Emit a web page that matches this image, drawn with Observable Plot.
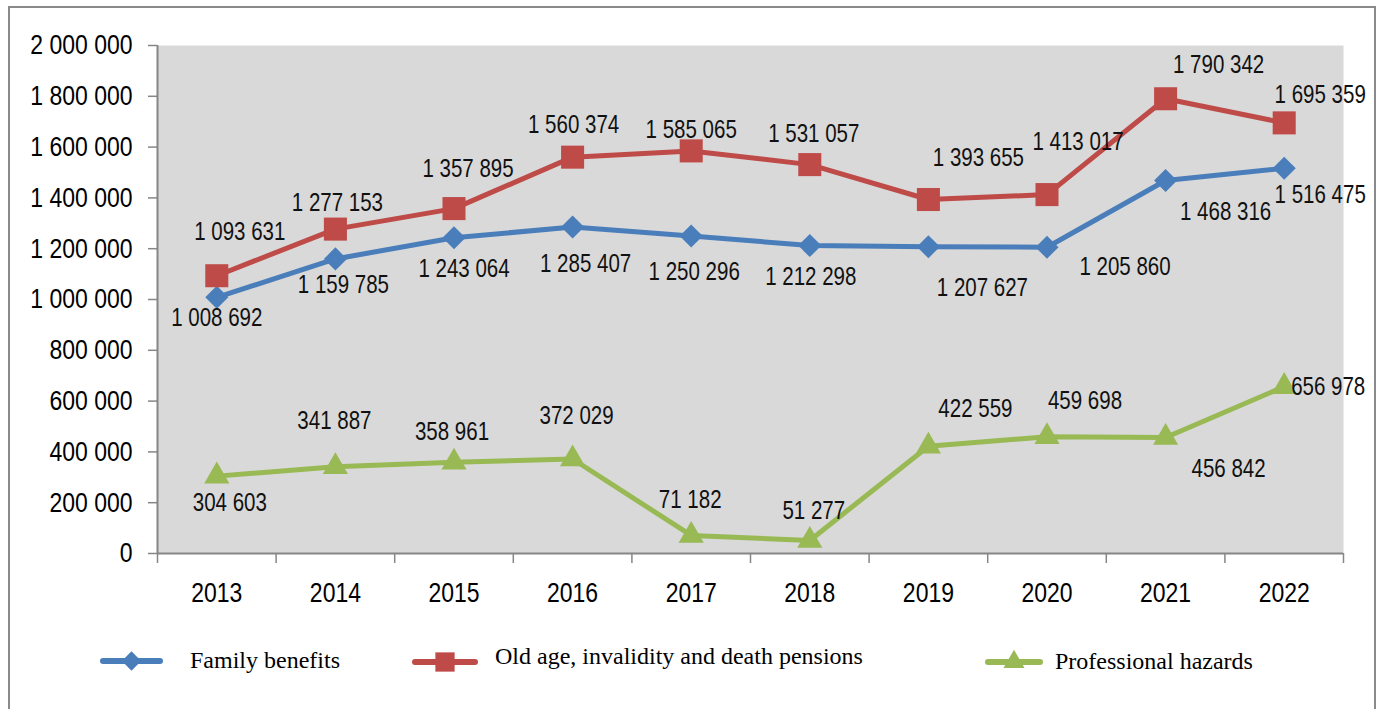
<!DOCTYPE html>
<html><head><meta charset="utf-8">
<script src="https://cdn.jsdelivr.net/npm/d3@7"></script>
<script src="https://cdn.jsdelivr.net/npm/@observablehq/plot@0.6"></script>
<style>
body{margin:0;background:#fff;width:1383px;height:709px;overflow:hidden;position:relative;}
#frame{position:absolute;left:8px;top:6px;width:1368px;height:730px;border:2px solid #8a8a8a;box-sizing:border-box;}
#chart{position:absolute;left:0;top:0;}
.leg{position:absolute;font-family:"Liberation Serif","Times New Roman",serif;font-size:24px;color:#000;white-space:nowrap;line-height:1;}
.icon{position:absolute;}
</style></head><body>
<div id="frame"></div>
<div id="chart"></div>
<div id="legend"></div>
<script>
const years = [2013, 2014, 2015, 2016, 2017, 2018, 2019, 2020, 2021, 2022];
const familyBenefits = [1008692, 1159785, 1243064, 1285407, 1250296, 1212298, 1207627, 1205860, 1468316, 1516475];
const oldAgePensions = [1093631, 1277153, 1357895, 1560374, 1585065, 1531057, 1393655, 1413017, 1790342, 1695359];
const professionalHazards = [304603, 341887, 358961, 372029, 71182, 51277, 422559, 459698, 456842, 656978];
const yTicks = [0, 200000, 400000, 600000, 800000, 1000000, 1200000, 1400000, 1600000, 1800000, 2000000];
const seriesNames = ["Family benefits", "Old age, invalidity and death pensions", "Professional hazards"];

// styling / layout (kept separate from data)
const seriesColors = ["#4a7ebb", "#be4b48", "#98b954"];
const seriesSymbols = ["diamond2", "square", "triangle2"];
const seriesR = [10.4, 13, 12];
const labelDx = [
  [0, 8, 10, 13, 3, 1, 54, 78, 60, 36],
  [23, 2, 14, 1, 0, 4, 50, 31, 53, 36],
  [13, -1, -2, 4, -1, 4, 47, 38, 63, 44]
];
const labelDy = [
  [21, 26, 31, 37, 36, 31, 41, 20, 31, 27],
  [-44, -26, -40, -32, -21, -31, -42, -53, -34, -28],
  [27, -46, -30, -43, -35, -29, -37, -36, 32, 0]
];

const seriesValues = [familyBenefits, oldAgePensions, professionalHazards];
const rows = seriesValues.flatMap((vals, s) => vals.map((v, i) => ({
  s, series: seriesNames[s], i, year: years[i], value: v,
  dx: labelDx[s][i], dy: labelDy[s][i]
})));
const fmt = v => d3.format(",")(v).replace(/,/g, " ");
const numFont = '"Liberation Sans",Arial,sans-serif';

const chart = Plot.plot({
  width: 1383, height: 620,
  marginLeft: 157, marginRight: 40, marginTop: 45, marginBottom: 67,
  style: {fontFamily: numFont, fontSize: "28px", background: "transparent", color: "#000", overflow: "visible"},
  x: {type: "linear", domain: [-0.5, years.length - 0.5], label: null},
  y: {domain: [0, 2000000], label: null},
  marks: [
    Plot.frame({fill: "#d9d9d9", stroke: null}),
    Plot.axisY({ticks: yTicks, tickSize: 9, tickPadding: 16, tickFormat: fmt, stroke: "#868686", strokeWidth: 1.5, fontSize: 28, label: null}),
    Plot.axisX({ticks: d3.range(years.length + 1).map(i => i - 0.5), tickSize: 10, tickFormat: () => "", stroke: "#868686", strokeWidth: 1.5, label: null}),
    Plot.axisX({ticks: d3.range(years.length), tickSize: 0, tickPadding: 29, tickFormat: i => String(years[i]), fontSize: 28, label: null}),
    Plot.ruleY([0], {stroke: "#868686", strokeWidth: 2}),
    Plot.ruleX([-0.5], {stroke: "#868686", strokeWidth: 2}),
    ...seriesNames.map((name, s) => Plot.line(rows.filter(d => d.s === s), {
      x: "i", y: "value", stroke: seriesColors[s], strokeWidth: 5, strokeLinejoin: "round", strokeLinecap: "round"
    })),
    ...seriesNames.map((name, s) => Plot.dot(rows.filter(d => d.s === s), {
      x: "i", y: "value", symbol: seriesSymbols[s], r: seriesR[s], fill: seriesColors[s], stroke: null
    })),
    ...rows.map(d => Plot.text([d], {
      x: "i", y: "value", text: r => fmt(r.value), dx: d.dx, dy: d.dy,
      fontSize: 25, fill: "#111", fontFamily: numFont
    }))
  ]
});
document.getElementById("chart").appendChild(chart);

// condense the number glyphs (Calibri-like narrow look)
chart.querySelectorAll("text").forEach(t => {
  const L = t.getComputedTextLength();
  if (L > 0) {
    t.setAttribute("textLength", (L * 0.82).toFixed(1));
    t.setAttribute("lengthAdjust", "spacingAndGlyphs");
  }
});

// legend below the chart
const legend = document.getElementById("legend");
const legendItems = [
  {lineX: 103, lineW: 57, y: 661, textX: 190, textTop: 648},
  {lineX: 415, lineW: 60, y: 662, textX: 495, textTop: 644},
  {lineX: 988, lineW: 52, y: 662, textX: 1055, textTop: 649}
];
const symbolMap = {diamond2: d3.symbolDiamond2, square: d3.symbolSquare, triangle2: d3.symbolTriangle2};
legendItems.forEach((it, s) => {
  const w = it.lineW + 10, h = 30;
  const svg = d3.create("svg").attr("class", "icon").attr("width", w).attr("height", h)
    .style("left", (it.lineX - 5) + "px").style("top", (it.y - h / 2) + "px");
  svg.append("line").attr("x1", 5).attr("x2", w - 5).attr("y1", h / 2).attr("y2", h / 2)
    .attr("stroke", seriesColors[s]).attr("stroke-width", 6).attr("stroke-linecap", "round");
  const size = Math.PI * seriesR[s] * seriesR[s] * 0.7;
  svg.append("path").attr("d", d3.symbol(symbolMap[seriesSymbols[s]], size)())
    .attr("transform", `translate(${w / 2},${h / 2})`).attr("fill", seriesColors[s]);
  legend.appendChild(svg.node());
  const t = document.createElement("div");
  t.className = "leg";
  t.style.left = it.textX + "px";
  t.style.top = it.textTop + "px";
  t.textContent = seriesNames[s];
  legend.appendChild(t);
});
</script>
</body></html>
